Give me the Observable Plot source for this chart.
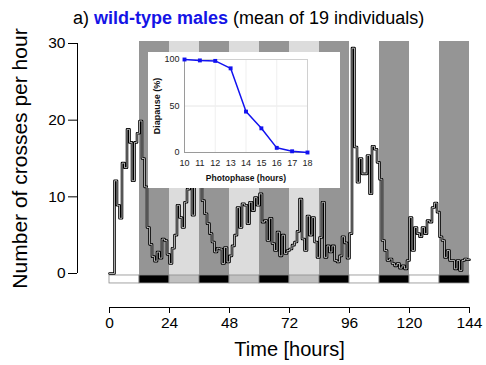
<!DOCTYPE html>
<html><head><meta charset="utf-8">
<script src="https://cdn.jsdelivr.net/npm/d3@7"></script>
<script src="https://cdn.jsdelivr.net/npm/@observablehq/plot@0.6"></script>
<style>
body{margin:0;background:#fff;font-family:"Liberation Sans",Arial,sans-serif;}
#wrap{position:relative;width:486px;height:365px;overflow:hidden}
#title{height:33px;box-sizing:border-box;padding:7px 0 0 73px;font-size:18px;line-height:22px;white-space:nowrap;color:#000}
#title b{color:#1414e6}
#main svg,#inset svg{display:block}
#inset{position:absolute;left:148px;top:52px;width:192px;height:136px;background:#fff}
</style></head><body>
<div id="wrap">
<div id="title">a) <b>wild-type males</b> (mean of 19 individuals)</div>
<div id="main"></div>
<div id="inset"></div>
</div>
<script>
// ---- main panel data: mean crosses per hour, hours 0..143 ----
const crosses = [
 0, 0, 12.1, 8.9, 7.2, 14.4, 13.8, 18.8, 17.1, 12.1, 17.1, 18.3,
 19.9, 15.0, 11.3, 6.0, 3.8, 2.2, 1.6, 2.8, 2.0, 4.5, 4.3, 2.5,
 1.3, 3.3, 5.0, 8.9, 7.3, 6.0, 9.3, 11.0, 15.0, 7.6, 14.0, 14.5,
 12.0, 9.5, 7.8, 6.5, 5.2, 4.1, 2.8, 3.3, 3.2, 1.3, 3.4, 1.5,
 2.3, 3.6, 5.0, 8.6, 6.0, 9.1, 8.9, 6.5, 9.3, 8.2, 9.9, 8.9,
 10.4, 6.7, 6.9, 4.3, 7.2, 3.9, 3.0, 5.4, 2.3, 5.0, 2.6, 3.0,
 3.2, 3.7, 4.1, 5.5, 9.7, 4.5, 3.0, 7.5, 5.0, 7.3, 4.1, 2.1,
 4.7, 9.3, 2.1, 3.6, 2.8, 3.6, 1.7, 1.5, 2.3, 4.8, 4.0, 2.0,
 5.2, 29.4, 16.5, 11.9, 15.0, 13.0, 13.0, 15.4, 10.4, 16.6, 16.2, 14.5,
 12.3, 4.3, 3.0, 1.7, 1.9, 1.3, 1.0, 1.3, 0.7, 1.0, 0.6, 1.7,
 7.3, 3.0, 6.0, 5.2, 4.8, 6.0, 5.2, 6.9, 6.7, 8.6, 9.2, 8.0,
 4.8, 4.3, 2.1, 3.0, 1.7, 1.7, 0.6, 1.7, 0.4, 1.7, 1.9, 1.8
];
// light regime: 12 h phases
const phaseStart = [0, 12, 24, 36, 48, 60, 72, 84, 96, 108, 120, 132];
const phaseEnd   = [12, 24, 36, 48, 60, 72, 84, 96, 108, 120, 132, 144];
const bandShade  = ["none","dark","light","dark","light","dark","light","dark","none","dark","none","dark"];
const barShade   = ["white","black","grey","black","grey","black","grey","black","white","black","white","black"];
const xTicks = [0, 24, 48, 72, 96, 120, 144];
const yTicks = [0, 10, 20, 30];
const xLabel = "Time [hours]";
const yLabel = "Number of crosses per hour";
// ---- inset data ----
const photophase = [10, 11, 12, 13, 14, 15, 16, 17, 18];
const diapause   = [100, 99, 98.5, 90.5, 44, 26, 5, 1.3, 0];
const insetYTicks = [0, 50, 100];
const insetXLabel = "Photophase (hours)";
const insetYLabel = "Diapause (%)";

const bandColor = {dark: "#959595", light: "#dcdcdc"};
const barColor = {white: "#ffffff", black: "#000000", grey: "#c0c0c0"};
const bandTop = 30.26, bandBottom = -0.26, barTop = -0.26, barBottom = -1.3;

const series = crosses.map((v, i) => ({hour: i, v}));
series.push({hour: phaseEnd[phaseEnd.length - 1], v: crosses[crosses.length - 1]});
const phases = phaseStart.map((s, i) => ({start: s, end: phaseEnd[i], band: bandShade[i], bar: barShade[i]}));
const yMid = (d3.min(yTicks) + d3.max(yTicks)) / 2;
const font = "'Liberation Sans', Arial, Helvetica, sans-serif";

const main = Plot.plot({
  width: 486, height: 332,
  marginLeft: 109, marginRight: 17, marginTop: 10, marginBottom: 58,
  x: {domain: [d3.min(xTicks), d3.max(xTicks)]},
  y: {domain: [d3.min(yTicks), d3.max(yTicks)], range: [240, 10]},
  style: {fontFamily: font, fontSize: "15.5px", color: "#000", background: "transparent", overflow: "visible"},
  marks: [
    Plot.rect(phases.filter(d => d.band !== "none"), {x1: "start", x2: "end", y1: () => bandBottom, y2: () => bandTop, fill: d => bandColor[d.band]}),
    Plot.rect(phases, {x1: "start", x2: "end", y1: () => barBottom, y2: () => barTop, fill: d => barColor[d.bar], stroke: "#8c8c8c", strokeWidth: 0.8}),
    Plot.line(series, {x: "hour", y: "v", curve: "step-after", stroke: "#000", strokeWidth: 2.6}),
    Plot.line(series, {x: "hour", y: "v", curve: "step-after", stroke: "#fff", strokeOpacity: 0.75, strokeWidth: 0.9}),
    Plot.axisY({ticks: yTicks, tickSize: 9, tickPadding: 3, dx: -32, label: null}),
    Plot.ruleX([d3.min(xTicks)], {y1: d3.min(yTicks), y2: d3.max(yTicks), dx: -32, stroke: "#000"}),
    Plot.axisX({ticks: xTicks, tickSize: 6, tickPadding: 3, label: null}),
    Plot.frame({anchor: "bottom", stroke: "#000"}),
    Plot.text([yLabel], {text: d => d, y: () => yMid, frameAnchor: "left", textAnchor: "middle", dx: -89, rotate: -90, fontSize: 21}),
    Plot.text([xLabel], {text: d => d, frameAnchor: "bottom", dy: 48, fontSize: 20})
  ]
});
document.getElementById("main").appendChild(main);

const pts = photophase.map((p, i) => ({p, d: diapause[i]}));
const inset = Plot.plot({
  width: 192, height: 136,
  marginLeft: 36, marginRight: 33, marginTop: 7, marginBottom: 36,
  x: {domain: [d3.min(photophase), d3.max(photophase)]},
  y: {domain: [d3.min(insetYTicks), d3.max(insetYTicks)]},
  style: {fontFamily: font, fontSize: "9px", color: "#222", background: "#fff"},
  marks: [
    Plot.gridY([50], {stroke: "#e6e6e6", strokeOpacity: 1}),
    Plot.gridX([12, 14, 16], {stroke: "#efefef", strokeOpacity: 1}),
    Plot.frame({stroke: "#d0d0d0"}),
    Plot.frame({anchor: "left", stroke: "#9a9a9a"}),
    Plot.frame({anchor: "bottom", stroke: "#9a9a9a"}),
    Plot.axisY({ticks: insetYTicks, tickSize: 0, tickPadding: 5, label: null}),
    Plot.axisX({ticks: photophase, tickSize: 0, tickPadding: 7, label: null}),
    Plot.line(pts, {x: "p", y: "d", stroke: "#1212f0", strokeWidth: 1.5}),
    Plot.dot(pts, {x: "p", y: "d", symbol: "square", r: 2.2, fill: "#1212f0", stroke: "none"}),
    Plot.text([insetYLabel], {text: d => d, y: () => 50, frameAnchor: "left", textAnchor: "middle", dx: -27, rotate: -90, fontWeight: "bold", fontSize: 9, fill: "#111"}),
    Plot.text([insetXLabel], {text: d => d, frameAnchor: "bottom", dy: 28, fontWeight: "bold", fontSize: 8.5, fill: "#111"})
  ]
});
document.getElementById("inset").appendChild(inset);
</script>
</body></html>
